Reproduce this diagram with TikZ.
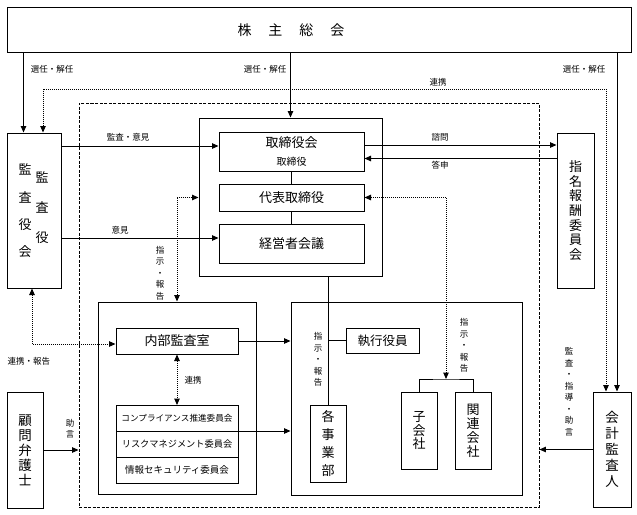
\documentclass[tikz,border=0pt]{standalone}
\usepackage{fontspec}
\setmainfont{Noto Sans CJK JP}
\usetikzlibrary{arrows.meta,positioning,calc}
\tikzset{
  orgbox/.style={draw, line width=1pt, inner sep=0pt, align=center,
    font=\fontsize{13}{15}\selectfont},
  commbox/.style={orgbox, minimum width=122, minimum height=26, outer sep=0pt},
  groupbox/.style={draw, line width=1pt, inner sep=0pt},
  dashbox/.style={draw, line width=0.9pt, dash pattern=on 3pt off 1.5pt, inner sep=0pt},
  lbl/.style={inner sep=0pt, align=center, font=\fontsize{8.5}{11.5}\selectfont},
  arr/.style={-{Triangle[length=6.5pt,width=5.5pt]}, line width=1pt},
  dotarr/.style={{Triangle[length=6.5pt,width=5.5pt]}-{Triangle[length=6.5pt,width=5.5pt]},
    line width=1pt, densely dotted},
  ln/.style={line width=1pt}
}
\begin{document}
\begin{tikzpicture}[x=1pt, y=-1pt]
  \useasboundingbox (0,0) rectangle (637,514);
  \node[orgbox, minimum width=624, minimum height=45] (meeting) at (319,29.5) {};
  \node[inner sep=0pt, font=\fontsize{14}{16}\selectfont] (meetingtext) at (291,30)
    {株\hspace{17pt}主\hspace{17pt}総\hspace{17pt}会};
  \node[dashbox, minimum width=460, minimum height=404] (firm) at (309,305) {};

  \node[orgbox, minimum width=54, minimum height=155] (audit) at (34,210.5) {};
  \node[lbl, font=\fontsize{13}{27.3}\selectfont] (auditL) at (25,211) {監\\査\\役\\会};
  \node[lbl, font=\fontsize{13}{30}\selectfont] (auditR) at (42,208) {監\\査\\役};
  \node[orgbox, minimum width=37, minimum height=155, font=\fontsize{13}{14.7}\selectfont]
    (nomination) at (575.5,210.5) {指\\名\\報\\酬\\委\\員\\会};
  \node[orgbox, minimum width=38, minimum height=115, font=\fontsize{13.5}{16}\selectfont]
    (accountant) at (612,449.5) {会\\計\\監\\査\\人};
  \node[orgbox, minimum width=36, minimum height=116, font=\fontsize{13.5}{15}\selectfont]
    (lawyer) at (25,450) {顧\\問\\弁\\護\\士};

  \node[groupbox, minimum width=183, minimum height=158] (board) at (290.5,197) {};
  \node[orgbox, minimum width=145, minimum height=39] (bod) at (291.5,151.5)
    {取締役会\\[3pt]{\fontsize{10}{12}\selectfont 取締役}};
  \node[orgbox, minimum width=145, minimum height=27] (rep) at (291.5,197.5) {代表取締役};
  \node[orgbox, minimum width=145, minimum height=39] (mgmt) at (291.5,243.5) {経営者会議};

  \node[groupbox, minimum width=158, minimum height=192] (auditdept) at (177,398) {};
  \node[orgbox, minimum width=122, minimum height=26] (iad) at (177,341) {内部監査室};
  \node[commbox, font=\fontsize{8.6}{10}\selectfont] (compliance) at (177,418)
    {コンプライアンス推進委員会};
  \node[commbox, font=\fontsize{9.2}{11}\selectfont, below=0pt of compliance] (risk)
    {リスクマネジメント委員会};
  \node[commbox, font=\fontsize{9.5}{11}\selectfont, below=0pt of risk] (security)
    {情報セキュリティ委員会};

  \node[groupbox, minimum width=231, minimum height=193] (ops) at (406.5,398.5) {};
  \node[orgbox, minimum width=73, minimum height=25, font=\fontsize{12.5}{15}\selectfont]
    (officers) at (382.5,340.5) {執行役員};
  \node[orgbox, minimum width=36, minimum height=77, font=\fontsize{13}{17.7}\selectfont]
    (divisions) at (328,443.5) {各\\事\\業\\部};
  \node[orgbox, minimum width=36, minimum height=77, font=\fontsize{13}{13.3}\selectfont]
    (subsid) at (419,430.5) {子\\会\\社};
  \node[orgbox, minimum width=36, minimum height=77, font=\fontsize{13}{14}\selectfont]
    (affil) at (473,430.5) {関\\連\\会\\社};
  \coordinate (jn) at (446,379);
  \coordinate (linkL) at (43,89);
  \coordinate (linkR) at (606,89);

  \draw[arr] ([xshift=17]audit.north west |- meeting.south) -- ([xshift=17]audit.north west);
  \draw[arr] (meeting.south -| board.north) -- (board.north);
  \draw[arr] ([xshift=5]accountant.north |- meeting.south) -- ([xshift=5]accountant.north);
  \draw[dotarr] (audit.north -| linkL) -- (linkL) -- (linkR) -- (accountant.north -| linkR);
  \draw[arr] ([yshift=5.5]bod.west -| audit.east) -- ([yshift=5.5]bod.west);
  \draw[arr] ([yshift=5.5]mgmt.west -| audit.east) -- ([yshift=5.5]mgmt.west);
  \draw[arr] ([yshift=6.5]bod.east) -- ([yshift=6.5]bod.east -| nomination.west);
  \draw[arr] ([yshift=-7]bod.east -| nomination.west) -- ([yshift=-7]bod.east);
  \draw[ln] (bod) -- (rep);
  \draw[ln] (rep) -- (mgmt);
  \draw[dotarr] (rep -| board.west) -| (auditdept.north);
  \draw[dotarr] (rep.east) -| (jn);
  \draw[ln] (board.south -| divisions.north) -- (divisions.north);
  \draw[ln] (divisions.north |- officers.west) -- (officers.west);
  \draw[ln] (subsid.north) |- (jn) -| (affil.north);
  \draw[arr] (iad.east) -- (iad.east -| ops.west);
  \draw[arr] (compliance.south east) -- (compliance.south east -| ops.west);
  \draw[dotarr] (iad.south) -- (compliance.north);
  \draw[dotarr] ([xshift=-2]audit.south) |- ([yshift=-3]iad.west);
  \draw[arr] (lawyer.east) -- (lawyer.east -| firm.west);
  \draw[arr] (accountant.west) -- (accountant.west -| firm.east);

  \node[lbl] (elect1) at (52,69) {選任・解任};
  \node[lbl] (elect2) at (265,69) {選任・解任};
  \node[lbl] (elect3) at (584,69) {選任・解任};
  \node[lbl] (linktop) at (438,82) {連携};
  \node[lbl] (auditopinion) at (128,137) {監査・意見};
  \node[lbl] (opinion) at (120,230) {意見};
  \node[lbl] (consult) at (440,137) {諮問};
  \node[lbl] (answer) at (440,165) {答申};
  \node[lbl] (instrL) at (160,273) {指\\示\\・\\報\\告};
  \node[lbl] (instrR) at (464,345.5) {指\\示\\・\\報\\告};
  \node[lbl] (instrM) at (318,359.5) {指\\示\\・\\報\\告};
  \node[lbl] (linkmid) at (193,380) {連携};
  \node[lbl] (linkreport) at (29,361) {連携・報告};
  \node[lbl] (advice) at (70,429) {助\\言};
  \node[lbl] (guidance) at (569,392) {監\\査\\・\\指\\導\\・\\助\\言};
\end{tikzpicture}
\end{document}
